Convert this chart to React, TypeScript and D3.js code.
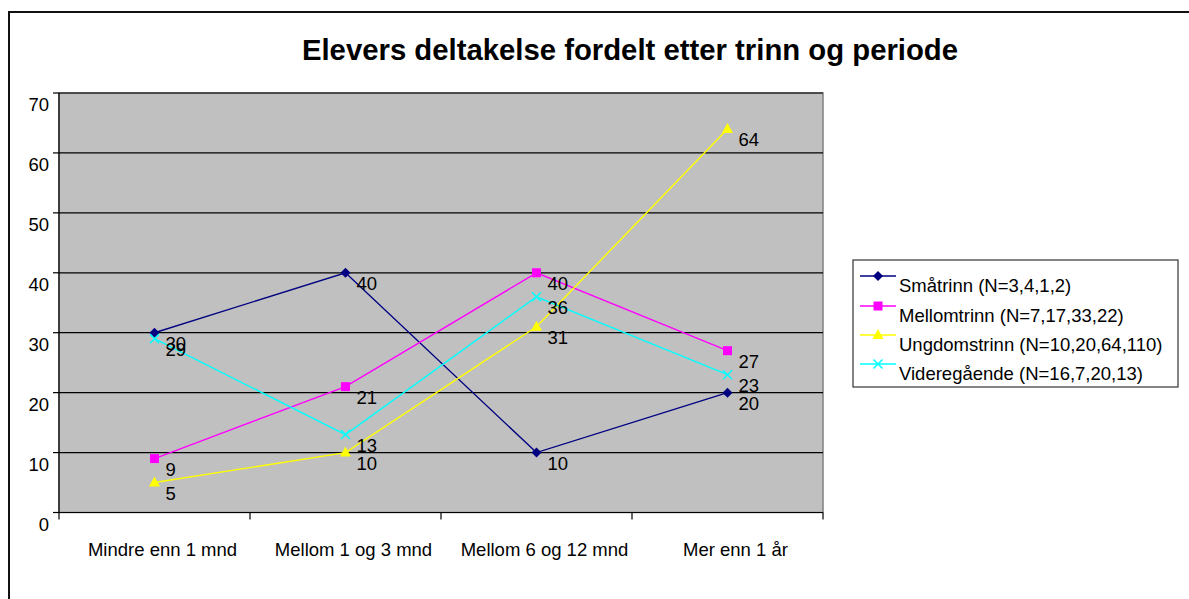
import React from "react";
import * as d3 from "d3";

const categories = ["Mindre enn 1 mnd", "Mellom 1 og 3 mnd", "Mellom 6 og 12 mnd", "Mer enn 1 år"];
const smatrinn = [30, 40, 10, 20];
const mellomtrinn = [9, 21, 40, 27];
const ungdomstrinn = [5, 10, 31, 64];
const videregaende = [29, 13, 36, 23];
const seriesNames = [
  "Småtrinn (N=3,4,1,2)",
  "Mellomtrinn (N=7,17,33,22)",
  "Ungdomstrinn (N=10,20,64,110)",
  "Videregående (N=16,7,20,13)",
];
const yTicks = [0, 10, 20, 30, 40, 50, 60, 70];
const title = "Elevers deltakelse fordelt etter trinn og periode";

const series = [
  { name: seriesNames[0], values: smatrinn, color: "#000080", marker: "diamond" },
  { name: seriesNames[1], values: mellomtrinn, color: "#FF00FF", marker: "square" },
  { name: seriesNames[2], values: ungdomstrinn, color: "#FFFF00", marker: "triangle" },
  { name: seriesNames[3], values: videregaende, color: "#00FFFF", marker: "x" },
];

const FONT = "'Liberation Sans', Arial, sans-serif";

function Marker({ type, x, y, color }: { type: string; x: number; y: number; color: string }) {
  if (type === "diamond") {
    return <path d={`M${x},${y - 5}L${x + 5},${y}L${x},${y + 5}L${x - 5},${y}Z`} fill={color} />;
  }
  if (type === "square") {
    return <rect x={x - 4.5} y={y - 4.5} width={9} height={9} fill={color} />;
  }
  if (type === "triangle") {
    return <path d={`M${x},${y - 6}L${x + 5.5},${y + 4}L${x - 5.5},${y + 4}Z`} fill={color} />;
  }
  return (
    <path
      d={`M${x - 4.5},${y - 4.5}L${x + 4.5},${y + 4.5}M${x + 4.5},${y - 4.5}L${x - 4.5},${y + 4.5}`}
      stroke={color}
      strokeWidth={1.5}
    />
  );
}

export default function App() {
  const W = 1189;
  const H = 599;
  const left = 59;
  const right = 823;
  const top = 93;
  const bottom = 512.5;

  const x = d3.scaleBand<string>().domain(categories).range([left, right]).padding(0);
  const y = d3.scaleLinear().domain([0, 70]).range([bottom, top]);
  const cx = (c: string) => (x(c) as number) + x.bandwidth() / 2;

  const line = d3
    .line<number>()
    .x((_, i) => cx(categories[i]))
    .y((d) => y(d));

  const boundaries = [left, ...categories.map((c) => (x(c) as number) + x.bandwidth())];

  const legendRowsLine = [276, 306, 335, 364];

  return (
    <svg
      width={W}
      height={H}
      style={{ position: "absolute", left: 0, top: 0, background: "#fff" }}
      fontFamily={FONT}
    >
      <rect x={0} y={0} width={W} height={H} fill="#fff" />
      {/* outer border */}
      <rect x={9} y={12} width={W + 20} height={H + 20} fill="none" stroke="#111" strokeWidth={2} />
      {/* title */}
      <text x={630} y={60} textAnchor="middle" fontSize={29.3} fontWeight="bold" fill="#000">
        {title}
      </text>
      {/* plot area */}
      <rect x={left} y={top} width={right - left} height={bottom - top} fill="#C0C0C0" stroke="#808080" strokeWidth={1.5} />
      {/* gridlines */}
      {yTicks.slice(1).map((t) => (
        <line key={t} x1={left} x2={right} y1={y(t)} y2={y(t)} stroke="#000" strokeWidth={1.2} />
      ))}
      {/* axes */}
      <line x1={left} x2={left} y1={top} y2={bottom} stroke="#000" strokeWidth={1.2} />
      <line x1={left} x2={right} y1={bottom} y2={bottom} stroke="#000" strokeWidth={1.2} />
      {yTicks.map((t) => (
        <g key={"yt" + t}>
          <line x1={left - 6} x2={left} y1={y(t)} y2={y(t)} stroke="#000" strokeWidth={1.2} />
          <text x={49} y={y(t) + 18} textAnchor="end" fontSize={18.5} fill="#000">
            {t}
          </text>
        </g>
      ))}
      {boundaries.map((b, i) => (
        <line key={"xt" + i} x1={b} x2={b} y1={bottom} y2={bottom + 7} stroke="#000" strokeWidth={1.2} />
      ))}
      {categories.map((c) => (
        <text key={c} x={cx(c) + 8} y={556} textAnchor="middle" fontSize={18.5} fill="#000">
          {c}
        </text>
      ))}
      {/* series */}
      {series.map((s) => (
        <g key={s.name}>
          <path d={line(s.values) || ""} fill="none" stroke={s.color} strokeWidth={1.4} />
          {s.values.map((v, i) => (
            <Marker key={i} type={s.marker} x={cx(categories[i])} y={y(v)} color={s.color} />
          ))}
        </g>
      ))}
      {series.map((s) =>
        s.values.map((v, i) => (
          <text key={s.name + i} x={cx(categories[i]) + 11} y={y(v) + 17.5} fontSize={18.5} fill="#000">
            {v}
          </text>
        ))
      )}
      {/* legend */}
      <rect x={853} y={260} width={325} height={127} fill="#fff" stroke="#333" strokeWidth={1.2} />
      {series.map((s, i) => (
        <g key={"lg" + i}>
          <line x1={860} x2={896} y1={legendRowsLine[i]} y2={legendRowsLine[i]} stroke={s.color} strokeWidth={1.4} />
          <Marker type={s.marker} x={878} y={legendRowsLine[i]} color={s.color} />
          <text x={899} y={legendRowsLine[i] + 16} fontSize={18.5} fill="#000">
            {s.name}
          </text>
        </g>
      ))}
    </svg>
  );
}
